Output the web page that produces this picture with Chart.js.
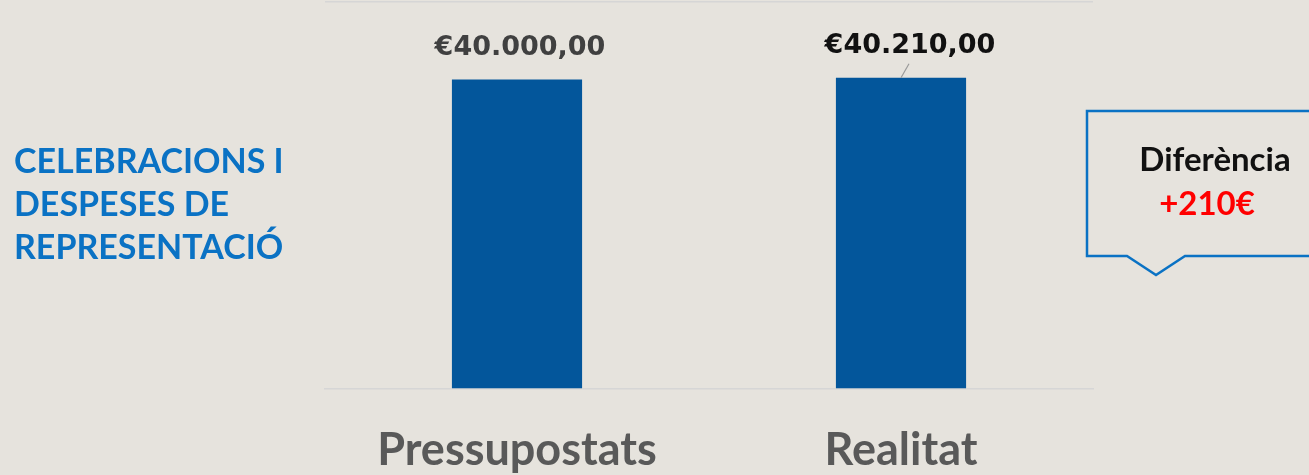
<!DOCTYPE html>
<html>
<head>
<meta charset="utf-8">
<script src="https://cdn.jsdelivr.net/npm/chart.js@4.4.1/dist/chart.umd.min.js"></script>
<style>
  html, body { margin: 0; padding: 0; background: #e6e3dd; }
  #wrap { width: 1309px; height: 475px; position: relative; }
</style>
</head>
<body>
<div id="wrap"><canvas id="chart"></canvas></div>
<script>
const categories = ['Pressupostats', 'Realitat'];
const values = [40000, 40210];
const valueLabels = ['€40.000,00', '€40.210,00'];
const titleLines = ['CELEBRACIONS I', 'DESPESES DE', 'REPRESENTACIÓ'];
const calloutTitle = 'Diferència';
const calloutValue = '+210€';

// labels above the bars, second one was moved by hand with a leader line
const valueLabelsPlugin = {
    id: 'valueLabels',
    afterDatasetsDraw(chart) {
        const ctx = chart.ctx;
        const meta = chart.getDatasetMeta(0);
        ctx.save();
        ctx.font = 'bold 27px "DejaVu Sans"';
        ctx.textAlign = 'center';
        ctx.textBaseline = 'alphabetic';
        meta.data.forEach((bar, i) => {
            if (i === 0) {
                ctx.fillStyle = '#404040';
                ctx.fillText(valueLabels[i], bar.x + 3, bar.y - 24);
            } else {
                ctx.fillStyle = '#111111';
                ctx.fillText(valueLabels[i], bar.x + 9, bar.y - 25);
                ctx.strokeStyle = '#9a9a9a';
                ctx.lineWidth = 1.2;
                ctx.beginPath();
                ctx.moveTo(bar.x + 8, bar.y - 14);
                ctx.lineTo(bar.x, bar.y);
                ctx.stroke();
            }
        });
        ctx.restore();
    }
};

const sideTextPlugin = {
    id: 'sideText',
    afterDraw(chart) {
        const ctx = chart.ctx;
        ctx.save();
        ctx.font = 'bold 34px Lato';
        ctx.fillStyle = '#0a72c4';
        ctx.textAlign = 'left';
        ctx.textBaseline = 'alphabetic';
        titleLines.forEach((t, i) => {
            ctx.fillText(t, 14, 173 + i * 43);
        });

        // callout box
        ctx.strokeStyle = '#0a72c4';
        ctx.lineWidth = 2.5;
        ctx.beginPath();
        ctx.moveTo(1087, 111);
        ctx.lineTo(1320, 111);
        ctx.lineTo(1320, 256);
        ctx.lineTo(1185, 256);
        ctx.lineTo(1156, 275);
        ctx.lineTo(1127, 256);
        ctx.lineTo(1087, 256);
        ctx.closePath();
        ctx.stroke();

        ctx.textAlign = 'center';
        ctx.font = 'bold 33px Lato';
        ctx.fillStyle = '#111111';
        ctx.fillText(calloutTitle, 1215, 171);
        ctx.fillStyle = '#ff0000';
        ctx.fillText(calloutValue, 1207, 215);
        ctx.restore();
    }
};

new Chart(document.getElementById('chart'), {
    type: 'bar',
    data: {
        labels: categories,
        datasets: [{
            data: values,
            backgroundColor: '#03569b',
            borderWidth: 0,
            categoryPercentage: 1,
            barPercentage: 0.339
        }]
    },
    options: {
        responsive: true,
        maintainAspectRatio: false,
        animation: false,
        layout: { padding: { left: 325, right: 216, top: 2, bottom: 0 } },
        plugins: {
            legend: { display: false },
            tooltip: { enabled: false }
        },
        scales: {
            x: {
                grid: { display: false },
                border: { display: true, color: '#d6d6d6', width: 1.5 },
                ticks: {
                    color: '#595959',
                    font: { family: 'Lato', weight: 'bold', size: 45 },
                    padding: 26
                },
                afterFit: (s) => { s.height = 475 - 387 - 2; }
            },
            y: {
                min: 0,
                max: 50000,
                ticks: { display: false, stepSize: 10000 },
                border: { display: false },
                grid: {
                    drawTicks: false,
                    color: (c) => c.tick && c.tick.value === 50000 ? '#d6d6d6' : 'rgba(0,0,0,0)',
                    lineWidth: 1.5
                },
                afterFit: (s) => { s.width = 0; }
            }
        }
    },
    plugins: [valueLabelsPlugin, sideTextPlugin]
});
</script>
</body>
</html>
